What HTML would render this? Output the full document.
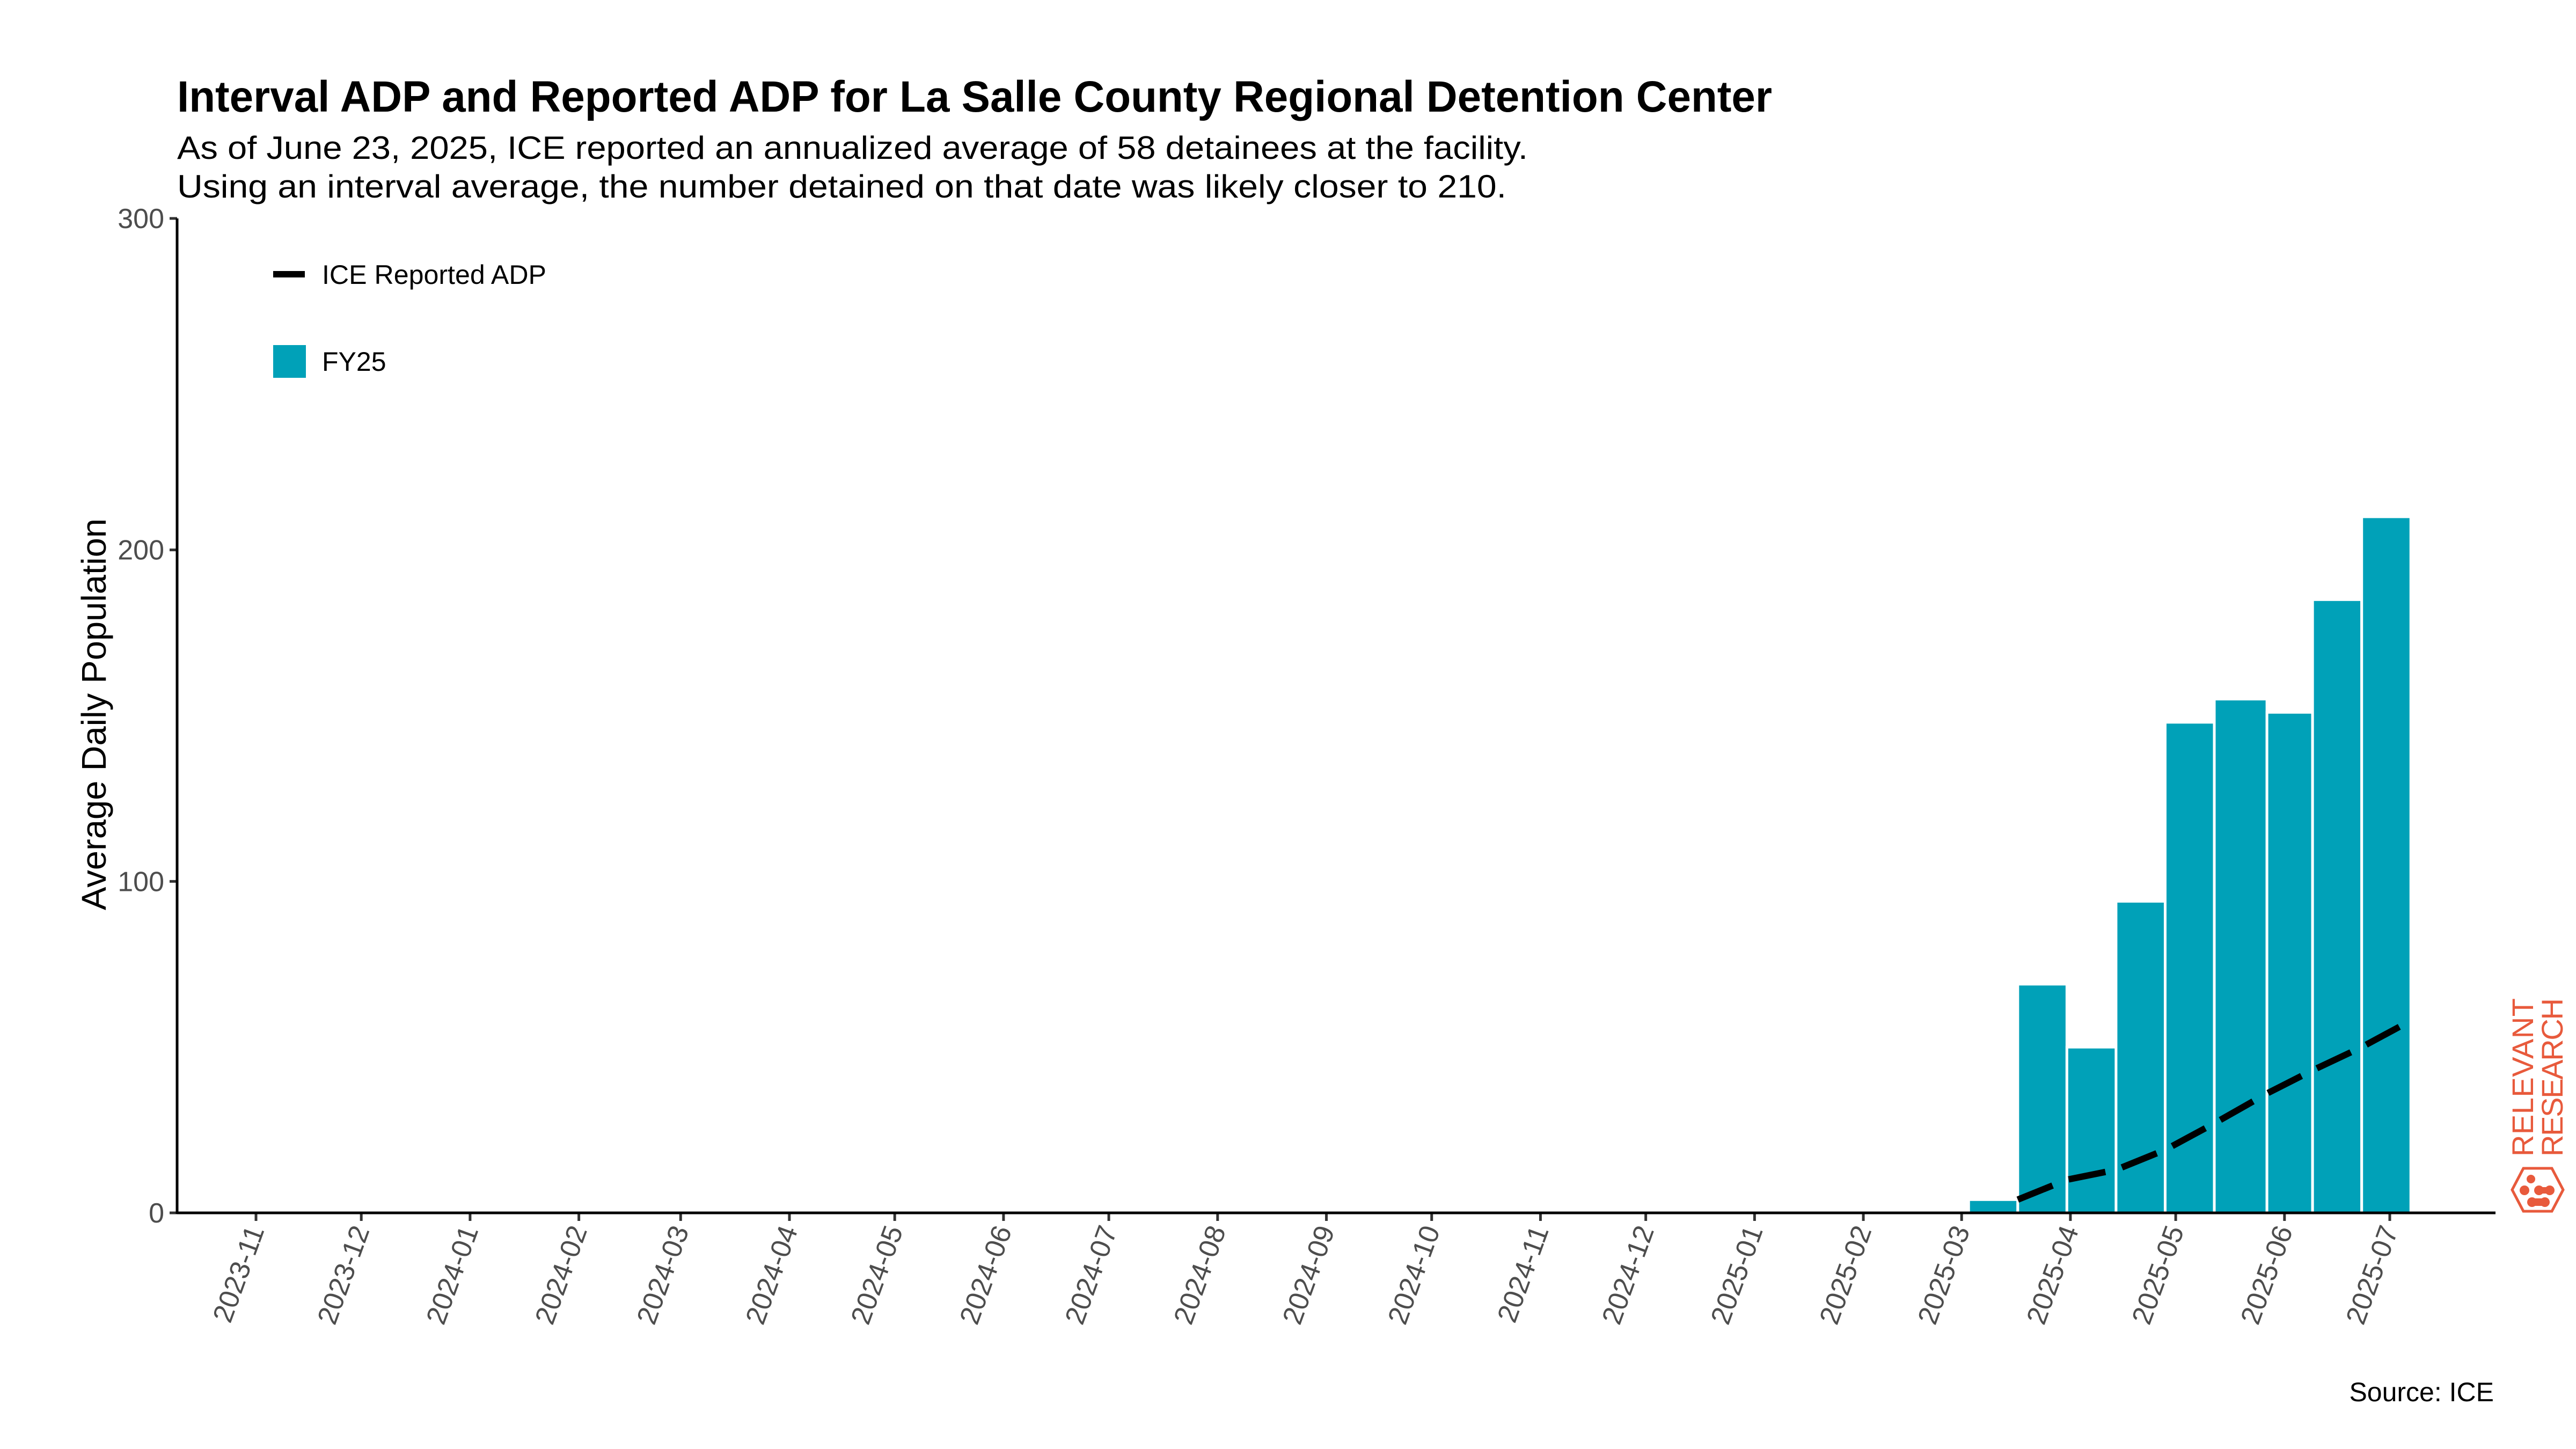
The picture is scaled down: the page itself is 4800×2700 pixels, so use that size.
<!DOCTYPE html>
<html><head><meta charset="utf-8"><style>
html,body{margin:0;padding:0;background:#fff;}
svg{display:block;}
text{font-family:"Liberation Sans",sans-serif;}
</style></head><body>
<svg id="chart" width="4800" height="2700" viewBox="0 0 4800 2700" xmlns="http://www.w3.org/2000/svg">
<text x="330" y="208" font-size="82" font-weight="bold" textLength="2972" lengthAdjust="spacingAndGlyphs">Interval ADP and Reported ADP for La Salle County Regional Detention Center</text>
<text x="330" y="296" font-size="60" textLength="2517" lengthAdjust="spacingAndGlyphs">As of June 23, 2025, ICE reported an annualized average of 58 detainees at the facility.</text>
<text x="330" y="368" font-size="60" textLength="2477" lengthAdjust="spacingAndGlyphs">Using an interval average, the number detained on that date was likely closer to 210.</text>
<text transform="translate(197,1331) rotate(-90)" text-anchor="middle" font-size="64" textLength="730" lengthAdjust="spacingAndGlyphs">Average Daily Population</text>
<g id="yaxis"></g>
<g id="xaxis"></g>
<g id="bars"></g>
<path id="adp-line" fill="none" stroke="#000" stroke-width="12" stroke-dasharray="70 32"/>
<line x1="330" y1="2260" x2="4650" y2="2260" stroke="#000" stroke-width="5"/>
<line x1="330" y1="407" x2="330" y2="2262" stroke="#000" stroke-width="5"/>
<g>
<line x1="509" y1="511" x2="568" y2="511" stroke="#000" stroke-width="12"/>
<text x="600" y="529" font-size="50" textLength="418" lengthAdjust="spacingAndGlyphs">ICE Reported ADP</text>
<rect x="509" y="643" width="61" height="61" fill="#00a1b8"/>
<text x="600" y="691" font-size="50">FY25</text>
</g>
<text x="4647" y="2611" text-anchor="end" font-size="50">Source: ICE</text>
<g fill="#e85a3c">
<text transform="translate(4720,2155) rotate(-90)" font-size="56" textLength="295" lengthAdjust="spacing">RELEVANT</text>
<text transform="translate(4775,2155) rotate(-90)" font-size="56" textLength="295" lengthAdjust="spacing">RESEARCH</text>
<polygon points="4702,2177 4755,2177 4776,2217 4755,2257 4702,2257 4681,2217" fill="none" stroke="#e85a3c" stroke-width="5"/>
<circle cx="4716" cy="2197" r="8"/><circle cx="4704" cy="2218" r="9"/><circle cx="4731" cy="2218" r="9"/><circle cx="4751" cy="2218" r="9"/><circle cx="4718" cy="2240" r="9"/><circle cx="4742" cy="2240" r="9"/>
<rect x="4718" y="2233" width="24" height="14"/><rect x="4731" y="2212" width="20" height="12"/>
</g>
</svg>
<script>
const tickLabels = ["2023-11","2023-12","2024-01","2024-02","2024-03","2024-04","2024-05","2024-06","2024-07","2024-08","2024-09","2024-10","2024-11","2024-12","2025-01","2025-02","2025-03","2025-04","2025-05","2025-06","2025-07"];
const yTicks = [0,100,200,300];
const barStart = ["2025-03-03","2025-03-17","2025-03-31","2025-04-14","2025-04-28","2025-05-12","2025-05-27","2025-06-09","2025-06-23"];
const barEnd = ["2025-03-17","2025-03-31","2025-04-14","2025-04-28","2025-05-12","2025-05-27","2025-06-09","2025-06-23","2025-07-07"];
const barValues = [4,69,50,94,148,155,151,185,210];
const lineDates = ["2025-03-17","2025-03-31","2025-04-14","2025-04-28","2025-05-12","2025-05-27","2025-06-09","2025-06-23","2025-07-07"];
const lineValues = [4,10,13,19,27,36,43,50,58];

const NS = "http://www.w3.org/2000/svg";
const d0 = Date.UTC(2023,10,1), d1 = Date.UTC(2025,6,1);
const X0 = 477, X1 = 4453;
function xScale(s){const p=s.split("-").map(Number);const t=Date.UTC(p[0],p[1]-1,p[2]||1);return X0+(t-d0)/(d1-d0)*(X1-X0);}
const Y0 = 2260, Y300 = 407;
function yScale(v){return Y0-(v/300)*(Y0-Y300);}
function mk(tag,attrs,parent){const e=document.createElementNS(NS,tag);for(const k in attrs)e.setAttribute(k,attrs[k]);parent.appendChild(e);return e;}

const ya=document.getElementById("yaxis");
yTicks.forEach(v=>{
  const y=yScale(v);
  const t=mk("line",{x1:316,y1:y,x2:330,y2:y,stroke:"#333","stroke-width":5},ya);
  
  
  const l=mk("text",{x:306,y:y+18,"text-anchor":"end","font-size":52,fill:"#4d4d4d"},ya);
  l.textContent=v;
  
  
});
const xa=document.getElementById("xaxis");
tickLabels.forEach(s=>{
  const x=xScale(s+"-01");
  const t=mk("line",{x1:x,y1:2260,x2:x,y2:2275,stroke:"#333","stroke-width":5},xa);
  
  
  const l=mk("text",{transform:"translate("+(x+16)+",2292) rotate(-70)","text-anchor":"end","font-size":52,fill:"#4d4d4d"},xa);
  l.textContent=s;
  
  
});
const bg=document.getElementById("bars");
barValues.forEach((v,i)=>{
  const xa_=xScale(barStart[i]), xb=xScale(barEnd[i]);
  const r=mk("rect",{x:xa_,y:yScale(v),width:xb-xa_,height:Y0-yScale(v),fill:"#00a1b8",stroke:"#fff","stroke-width":5},bg);
  
  
});
document.getElementById("adp-line").setAttribute("d",lineDates.map((d,i)=>(i?"L":"M")+xScale(d).toFixed(1)+","+yScale(lineValues[i]).toFixed(1)).join(" "));
</script>
</body></html>
